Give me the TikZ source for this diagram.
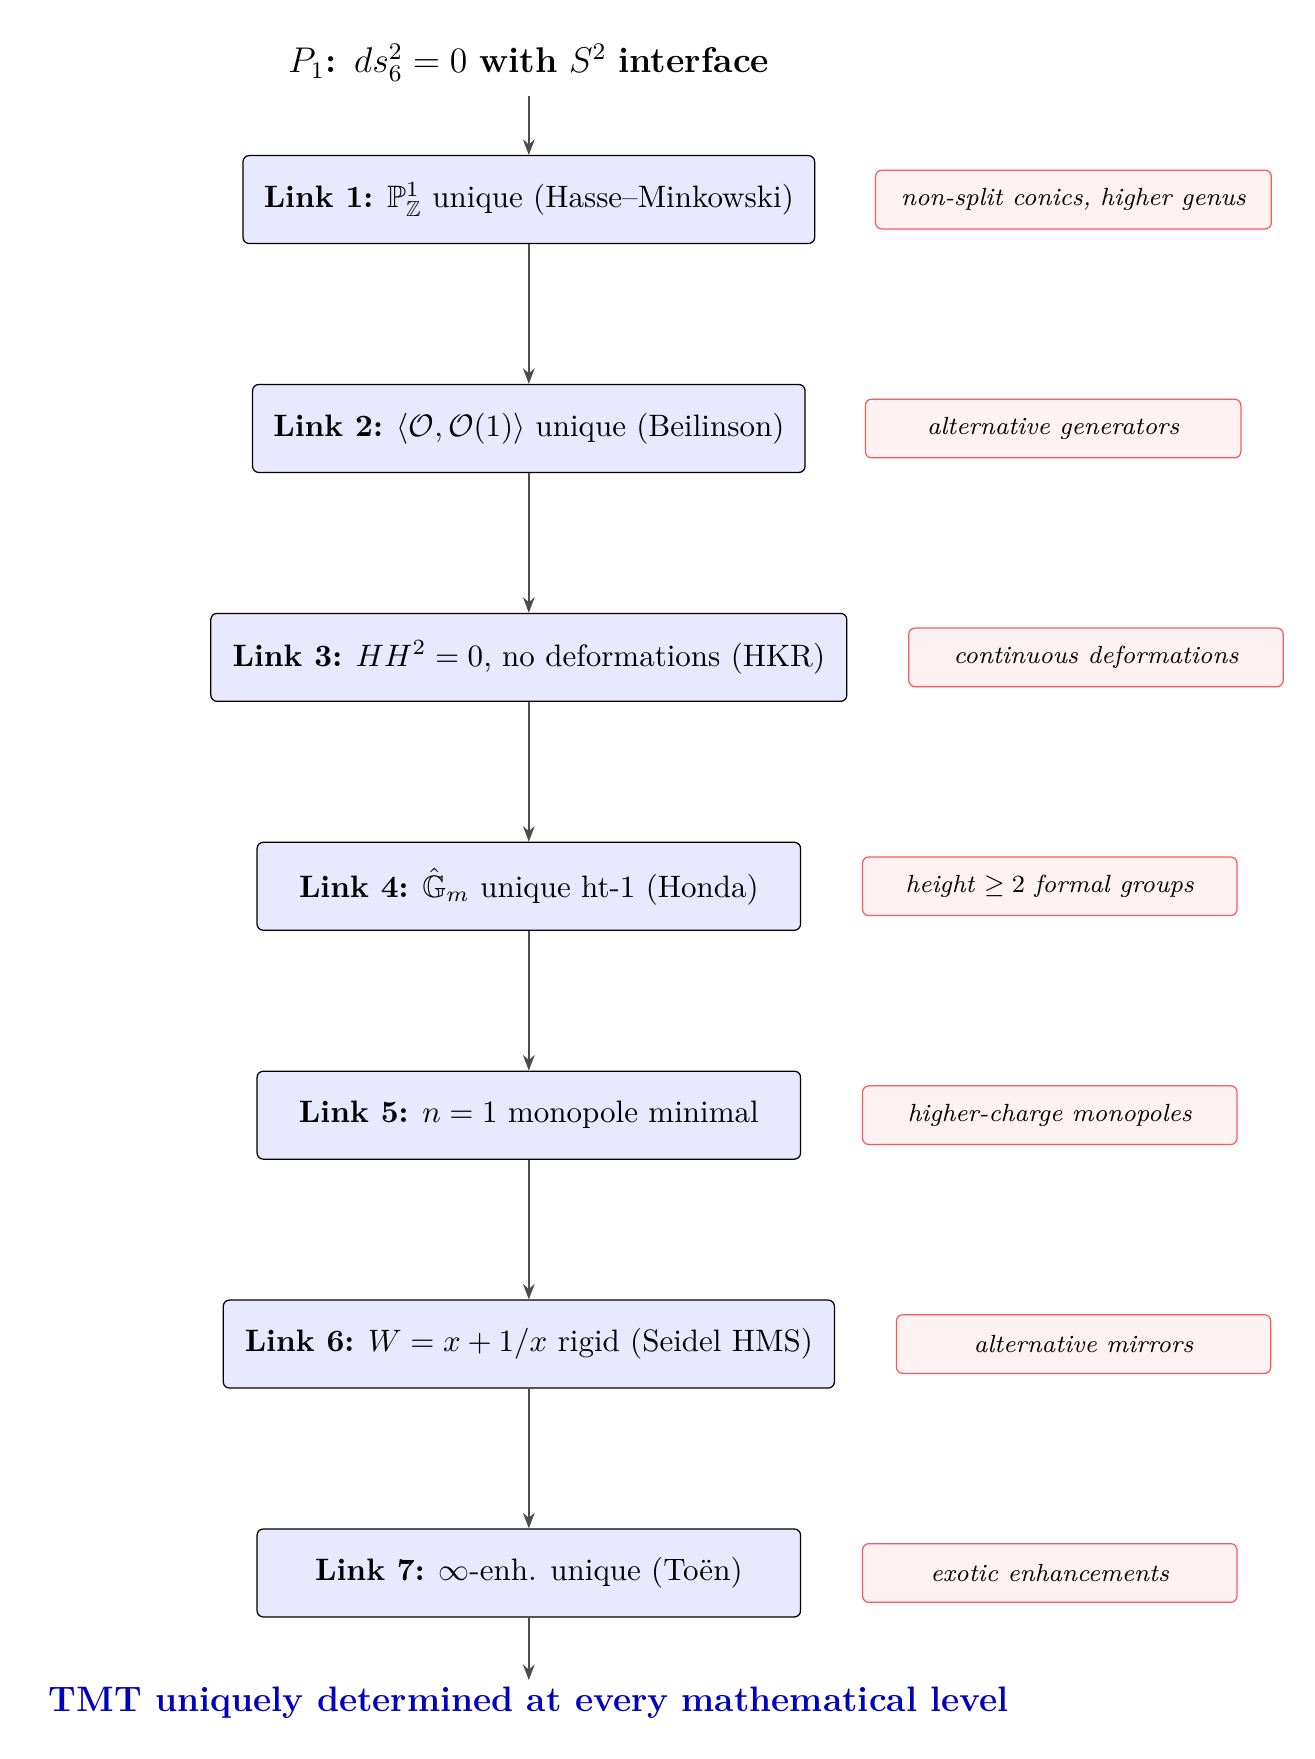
\documentclass[tikz,border=0pt]{standalone}
\usepackage{amsmath,amssymb}
\usetikzlibrary{arrows.meta}
\begin{document}
\begin{tikzpicture}[x=0.3636pt,y=-0.3636pt,
 link/.style={draw=black,fill=blue!9,rounded corners=2pt,minimum height=78*0.3636pt,inner sep=0pt},
 fail/.style={draw=red!65,fill=red!5,rounded corners=2pt,minimum height=52*0.3636pt,inner sep=0pt,font=\footnotesize\itshape},
 arr/.style={-{Stealth[length=5pt]},thick,black!70}]
\useasboundingbox (0,0) rectangle (1166,1560);
\node[scale=0.96] (top) at (469,56) {\large $P_1$\textbf{: }$ds^2_6=0$ \textbf{with} $S^2$ \textbf{interface}};
\coordinate (topa) at (469,85);
\node[link,minimum width=507*0.3636pt] (l1) at (469,177) {\textbf{Link 1:} $\mathbb{P}^1_{\mathbb{Z}}$ unique (Hasse--Minkowski)};
\node[link,minimum width=490*0.3636pt] (l2) at (469,380) {\textbf{Link 2:} $\langle\mathcal{O},\mathcal{O}(1)\rangle$ unique (Beilinson)};
\node[link,minimum width=564*0.3636pt] (l3) at (469,583) {\textbf{Link 3:} $HH^2=0$, no deformations (HKR)};
\node[link,minimum width=482*0.3636pt] (l4) at (469,786) {\textbf{Link 4:} $\hat{\mathbb{G}}_m$ unique ht-1 (Honda)};
\node[link,minimum width=482*0.3636pt] (l5) at (469,989) {\textbf{Link 5:} $n=1$ monopole minimal};
\node[link,minimum width=542*0.3636pt] (l6) at (469,1192) {\textbf{Link 6:} $W=x+1/x$ rigid (Seidel HMS)};
\node[link,minimum width=482*0.3636pt] (l7) at (469,1395) {\textbf{Link 7:} $\infty$-enh. unique (Toën)};
\coordinate (bota) at (469,1490);
\node[scale=0.95] (bot) at (469,1510) {\large\bfseries\color{blue!75!black}TMT uniquely determined at every mathematical level};
\node[fail,minimum width=351*0.3636pt] (f1) at (952,177) {non-split conics, higher genus};
\node[fail,minimum width=333*0.3636pt] (f2) at (934,380) {alternative generators};
\node[fail,minimum width=332*0.3636pt] (f3) at (972,583) {continuous deformations};
\node[fail,minimum width=332*0.3636pt] (f4) at (931,786) {height $\geq 2$ formal groups};
\node[fail,minimum width=332*0.3636pt] (f5) at (931,989) {higher-charge monopoles};
\node[fail,minimum width=332*0.3636pt] (f6) at (961,1192) {alternative mirrors};
\node[fail,minimum width=332*0.3636pt] (f7) at (931,1395) {exotic enhancements};
\draw[arr] (topa) -- (l1);
\draw[arr] (l1) -- (l2);
\draw[arr] (l2) -- (l3);
\draw[arr] (l3) -- (l4);
\draw[arr] (l4) -- (l5);
\draw[arr] (l5) -- (l6);
\draw[arr] (l6) -- (l7);
\draw[arr] (l7) -- (bota);
\end{tikzpicture}
\end{document}
